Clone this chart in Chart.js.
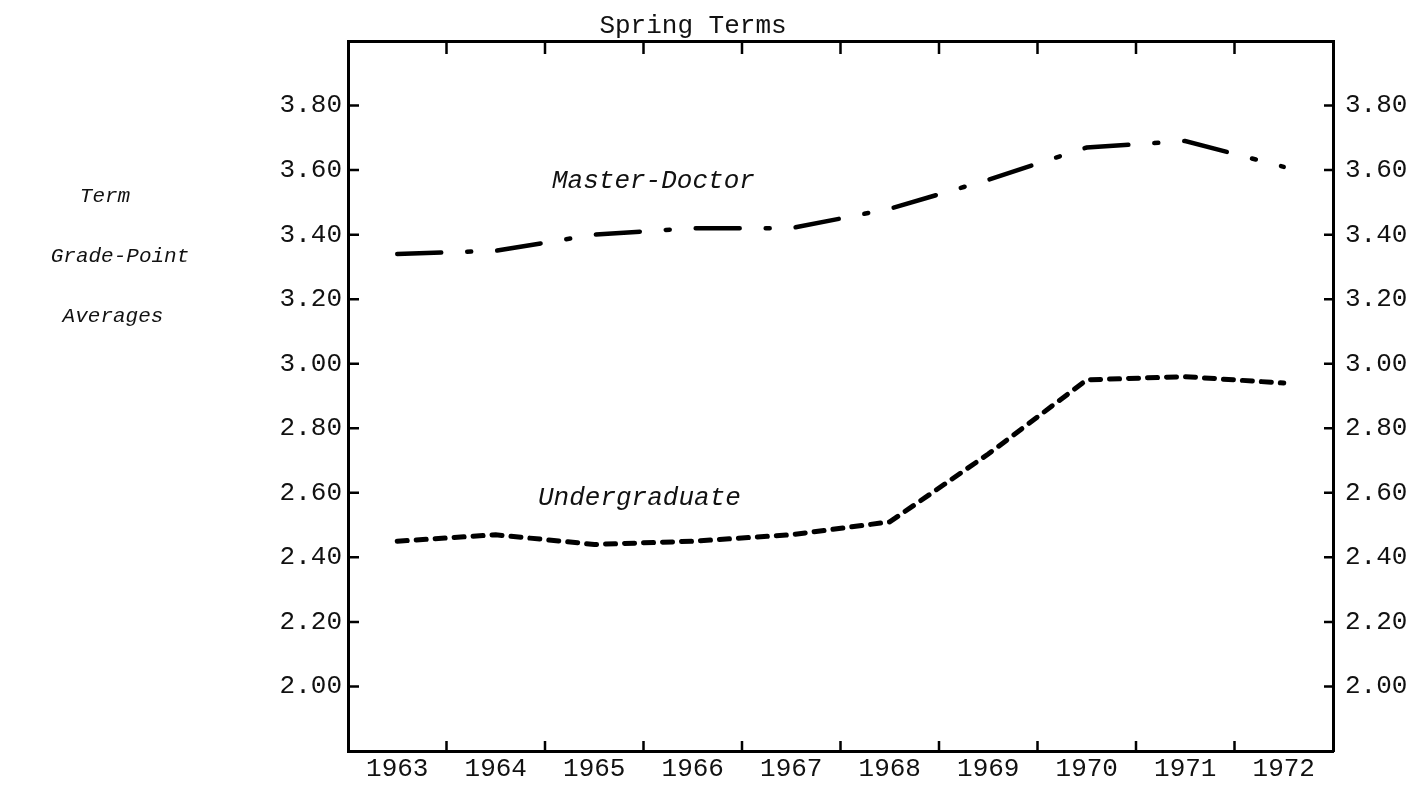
<!DOCTYPE html>
<html>
<head>
<meta charset="utf-8">
<script src="https://cdn.jsdelivr.net/npm/chart.js@4.4.1/dist/chart.umd.min.js"></script>
<style>
  html, body { margin: 0; padding: 0; background: #fff; }
  #wrap { width: 1425px; height: 785px; }
</style>
</head>
<body>
<div id="wrap"><canvas id="chart" width="1425" height="785"></canvas></div>
<script>
// data
const years = ['1963', '1964', '1965', '1966', '1967', '1968', '1969', '1970', '1971', '1972'];
const masterDoctor = [3.34, 3.35, 3.40, 3.42, 3.42, 3.48, 3.57, 3.67, 3.69, 3.61];
const undergraduate = [2.45, 2.47, 2.44, 2.45, 2.47, 2.51, 2.72, 2.95, 2.96, 2.94];
const yTicks = [2.00, 2.20, 2.40, 2.60, 2.80, 3.00, 3.20, 3.40, 3.60, 3.80];

const MONO = '"Liberation Mono", "DejaVu Sans Mono", monospace';
const tickFont = { family: MONO, size: 26 };

// inward tick marks on all four sides + the typed annotations
const frameTicks = {
  id: 'frameTicks',
  afterDraw(chart) {
    const { ctx, chartArea: a, scales } = chart;
    const xs = scales.x, ys = scales.y;
    ctx.save();
    ctx.strokeStyle = '#000';
    ctx.lineWidth = 2.5;
    ctx.beginPath();
    for (let i = 1; i < years.length; i++) {
      const px = (xs.getPixelForTick(i - 1) + xs.getPixelForTick(i)) / 2;
      ctx.moveTo(px, a.bottom); ctx.lineTo(px, a.bottom - 10);
      ctx.moveTo(px, a.top); ctx.lineTo(px, a.top + 13);
    }
    yTicks.forEach(v => {
      const py = ys.getPixelForValue(v);
      ctx.moveTo(a.left, py); ctx.lineTo(a.left + 11, py);
      ctx.moveTo(a.right, py); ctx.lineTo(a.right - 9, py);
    });
    ctx.stroke();

    ctx.fillStyle = '#111';
    ctx.textBaseline = 'alphabetic';
    ctx.font = '26px ' + MONO;
    ctx.textAlign = 'center';
    ctx.fillText('Spring Terms', 693, 33);

    ctx.font = 'italic 26px ' + MONO;
    ctx.textAlign = 'left';
    ctx.fillText('Master-Doctor', 552, 188);
    ctx.fillText('Undergraduate', 538, 505);

    // y-axis caption, typed in three lines
    ctx.font = 'italic 21px ' + MONO;
    ctx.textAlign = 'center';
    ctx.fillText('Term', 105, 202);
    ctx.fillText('Grade-Point', 120, 262);
    ctx.fillText('Averages', 113, 322);
    ctx.restore();
  }
};

const yScale = (pos, pad, width) => ({
  type: 'linear',
  position: pos,
  min: 1.8,
  max: 4.0,
  afterBuildTicks: s => { s.ticks = yTicks.map(v => ({ value: v })); },
  afterFit: s => { s.width = width; },
  grid: { display: false, drawTicks: false },
  border: { display: true, color: '#000', width: 3 },
  ticks: {
    font: tickFont,
    color: '#111',
    padding: pad,
    callback: v => Number(v).toFixed(2)
  }
});

new Chart(document.getElementById('chart'), {
  type: 'line',
  data: {
    labels: years,
    datasets: [
      {
        label: 'Master-Doctor',
        data: masterDoctor,
        borderColor: '#000',
        borderWidth: 4.5,
        borderDash: [44, 26, 4, 26],
        borderCapStyle: 'round',
        pointRadius: 0,
        tension: 0,
        yAxisID: 'y'
      },
      {
        label: 'Undergraduate',
        data: undergraduate,
        borderColor: '#000',
        borderWidth: 5,
        borderDash: [10, 9],
        borderCapStyle: 'round',
        pointRadius: 0,
        tension: 0,
        yAxisID: 'y'
      }
    ]
  },
  options: {
    responsive: false,
    animation: false,
    devicePixelRatio: 1,
    layout: { padding: 0 },
    plugins: { legend: { display: false }, tooltip: { enabled: false }, title: { display: false } },
    scales: {
      x: {
        type: 'category',
        position: 'bottom',
        offset: true,
        afterFit: s => { s.height = 34; },
        grid: { display: false, drawTicks: false },
        border: { display: true, color: '#000', width: 3 },
        ticks: { font: tickFont, color: '#111', padding: 3, maxRotation: 0, autoSkip: false }
      },
      x2: {
        type: 'category',
        position: 'top',
        labels: years,
        offset: true,
        afterFit: s => { s.height = 41; },
        grid: { display: false, drawTicks: false },
        border: { display: true, color: '#000', width: 3 },
        ticks: { display: false }
      },
      y: yScale('left', 6, 348),
      y2: yScale('right', 12, 92)
    }
  },
  plugins: [frameTicks]
});
</script>
</body>
</html>
